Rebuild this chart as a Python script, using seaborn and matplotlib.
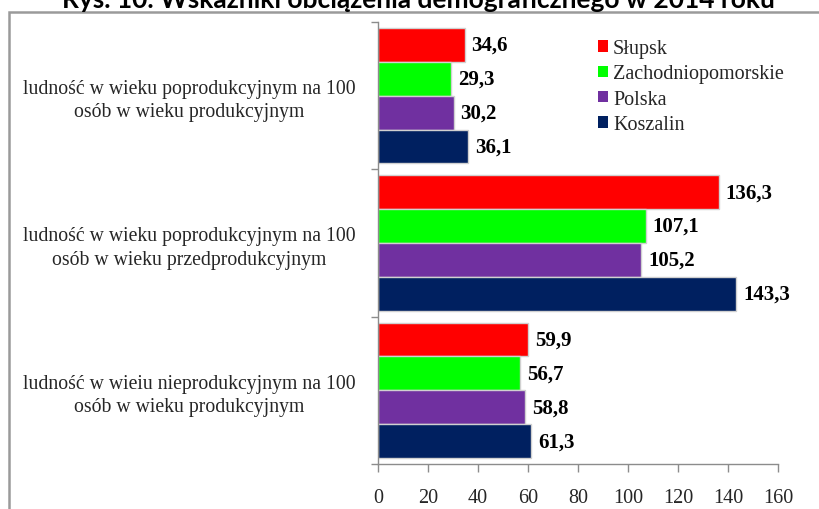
import matplotlib
matplotlib.use("Agg")
import matplotlib.pyplot as plt
import matplotlib.patches as mpatches
import seaborn as sns
import pandas as pd

categories = [
    "ludność w wieku poprodukcyjnym na 100\nosób w wieku produkcyjnym",
    "ludność w wieku poprodukcyjnym na 100\nosób w wieku przedprodukcyjnym",
    "ludność w wieiu nieprodukcyjnym na 100\nosób w wieku produkcyjnym",
]
series = ["Słupsk", "Zachodniopomorskie", "Polska", "Koszalin"]
slupsk = [34.6, 136.3, 59.9]
zachodniopomorskie = [29.3, 107.1, 56.7]
polska = [30.2, 105.2, 58.8]
koszalin = [36.1, 143.3, 61.3]
x_ticks = [0, 20, 40, 60, 80, 100, 120, 140, 160]
title = "Rys. 10. Wskaźniki obciążenia demograficznego w 2014 roku"

colors = ["#FF0000", "#00FF00", "#7030A0", "#002060"]

rows = []
for s, vals in zip(series, [slupsk, zachodniopomorskie, polska, koszalin]):
    for c, v in zip(categories, vals):
        rows.append({"kategoria": c, "seria": s, "wartosc": v})
df = pd.DataFrame(rows)

sns.set_theme(style="white")
plt.rcParams["font.family"] = ["Liberation Serif", "DejaVu Serif"]

fig = plt.figure(figsize=(8.19, 5.10), dpi=100)
ax = fig.add_axes([378 / 819, 1 - 465 / 510, (778 - 378) / 819, (465 - 23) / 510])

sns.barplot(data=df, y="kategoria", x="wartosc", hue="seria", order=categories,
            hue_order=series, palette=colors, orient="h", width=0.92,
            edgecolor="#d0d0d0", linewidth=1.0, saturation=1, ax=ax, legend=False)

for cont, s in zip(ax.containers, series):
    labels = [f"{v:.1f}".replace(".", ",") for v in cont.datavalues]
    ax.bar_label(cont, labels=labels, padding=5, fontsize=15, fontweight="bold",
                 color="#000000")

ax.set_xlim(0, 160)
ax.set_xticks(x_ticks)
ax.set_xticklabels([str(t) for t in x_ticks], fontsize=14.5)
ax.set_xlabel("")
ax.set_ylabel("")
ax.set_ylim(2.5, -0.5)
ax.set_yticks([-0.5, 0.5, 1.5, 2.5], minor=False)
ax.set_yticklabels([])
ax.set_yticks([0, 1, 2], minor=True)
ax.set_yticklabels(categories, minor=True, fontsize=14.2, multialignment="center",
                   linespacing=1.3)
ax.tick_params(axis="y", which="minor", length=0, pad=16)
ax.tick_params(axis="y", which="major", length=5, direction="out", color="#8c8c8c",
               width=1, left=True)
ax.tick_params(axis="x", length=6, direction="out", color="#8c8c8c", width=1,
               bottom=True, pad=11)

for side in ["top", "right"]:
    ax.spines[side].set_visible(False)
for side in ["left", "bottom"]:
    ax.spines[side].set_color("#8c8c8c")
    ax.spines[side].set_linewidth(1)

handles = [mpatches.Patch(facecolor=c, edgecolor="none") for c in colors]
fig.legend(handles, series, loc="upper left", bbox_to_anchor=(598 / 819, 1 - 40 / 510),
           frameon=False, fontsize=14.5, handlelength=0.5, handleheight=0.5,
           handletextpad=0.25, labelspacing=0.32, borderpad=0, borderaxespad=0)

frame = mpatches.Rectangle((9 / 819, -0.2), 1.2, 0.2 + (1 - 13 / 510),
                           transform=fig.transFigure, fill=False,
                           edgecolor="#9a9a9a", linewidth=1.8, clip_on=False)
fig.patches.append(frame)

fig.text(418 / 819, 1 - 8 / 510, title, ha="center", va="baseline",
         fontsize=19, fontweight="bold", family=["Lato", "DejaVu Sans"], color="#000000")

fig.savefig("out.png", dpi=100, facecolor="white")
